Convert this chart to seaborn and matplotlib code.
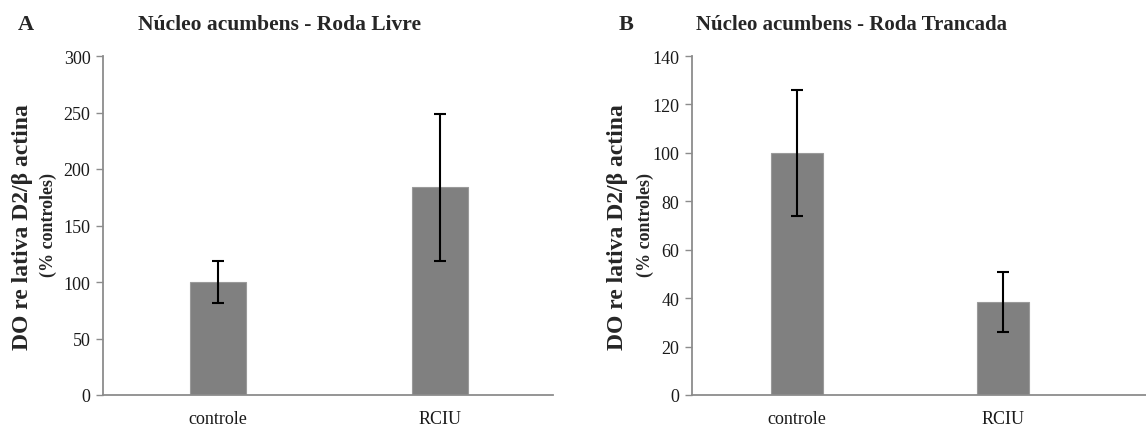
import matplotlib
matplotlib.use("Agg")
import matplotlib.pyplot as plt
import seaborn as sns
import pandas as pd

# Data
groups = ["controle", "RCIU"]
livre_means = [100, 184]
livre_errs = [19, 65]
trancada_means = [100, 38.5]
trancada_errs = [26, 12.5]

panel_titles = ["Núcleo acumbens - Roda Livre", "Núcleo acumbens - Roda Trancada"]
panel_letters = ["A", "B"]
ylims = [300, 140]
ysteps = [50, 20]

sns.set_theme(style="white")
plt.rcParams["font.family"] = ["Liberation Serif", "DejaVu Serif"]

fig = plt.figure(figsize=(11.46, 4.27), dpi=100)
axA = fig.add_axes([103 / 1146, 31 / 427, 450 / 1146, 339 / 427])
axB = fig.add_axes([692 / 1146, 31 / 427, 454 / 1146, 339 / 427])

bar_color = "#808080"
axis_color = "#8c8c8c"

panels = [
    (axA, livre_means, livre_errs, (-0.518, 1.509)),
    (axB, trancada_means, trancada_errs, (-0.511, 1.696)),
]

for i, (ax, means, errs, xlim) in enumerate(panels):
    df = pd.DataFrame({"grupo": groups, "valor": means})
    sns.barplot(data=df, x="grupo", y="valor", color=bar_color, width=0.25,
                saturation=1, edgecolor="#9a9a9a", linewidth=0.8, ax=ax, errorbar=None)
    ax.errorbar(range(len(groups)), means, yerr=errs, fmt="none", ecolor="black",
                elinewidth=1.5, capsize=4, capthick=1.5, zorder=5)
    ax.set_xlim(*xlim)
    ax.set_ylim(0, ylims[i])
    ax.set_yticks(range(0, ylims[i] + 1, ysteps[i]))
    ax.set_xlabel("")
    ax.set_ylabel("")
    for side in ["top", "right"]:
        ax.spines[side].set_visible(False)
    for side in ["left", "bottom"]:
        ax.spines[side].set_color(axis_color)
        ax.spines[side].set_linewidth(1.3)
    ax.tick_params(axis="y", which="both", left=True, length=5, width=1.0,
                   color=axis_color, labelsize=13, pad=4, labelcolor="#1a1a1a")
    ax.tick_params(axis="x", bottom=False, labelsize=13, pad=5, labelcolor="#1a1a1a")
    ax.grid(False)

# Titles, panel letters and y-axis labels
fig.text(280 / 1146, 1 - 25 / 427, panel_titles[0], ha="center", va="center",
         fontsize=15.5, fontweight="bold")
fig.text(852 / 1146, 1 - 25 / 427, panel_titles[1], ha="center", va="center",
         fontsize=15, fontweight="bold")
fig.text(26 / 1146, 1 - 25 / 427, panel_letters[0], ha="center", va="center",
         fontsize=16, fontweight="bold")
fig.text(626 / 1146, 1 - 25 / 427, panel_letters[1], ha="center", va="center",
         fontsize=16, fontweight="bold")

main_label = "DO re lativa D2/β actina"
sub_label = "(% controles)"
for xm, xs in [(23, 48), (617, 645)]:
    fig.text(xm / 1146, 1 - 227 / 427, main_label, rotation=90, ha="center", va="center",
             fontsize=17, fontweight="bold")
    fig.text(xs / 1146, 1 - 225 / 427, sub_label, rotation=90, ha="center", va="center",
             fontsize=13, fontweight="bold")

fig.savefig("out.png", dpi=100, facecolor="white")
